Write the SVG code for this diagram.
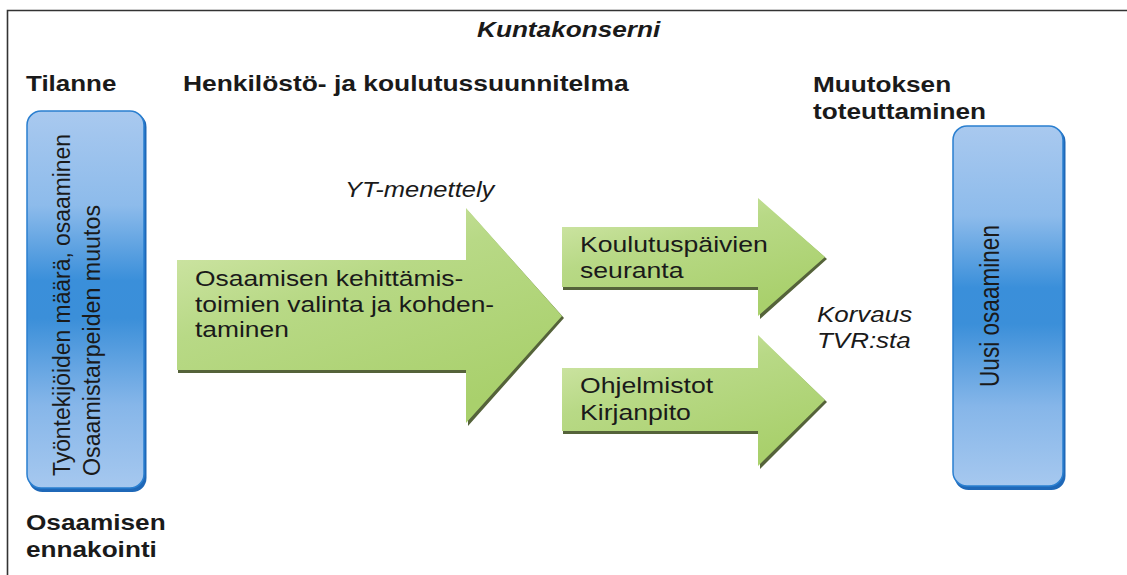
<svg xmlns="http://www.w3.org/2000/svg" width="1127" height="575" viewBox="0 0 1127 575">
  <style>
    .hd { font-family: "Liberation Sans", Arial, sans-serif; font-weight: bold; font-size: 22px; fill: #1a1a1a; }
    .tx { font-family: "Liberation Sans", Arial, sans-serif; font-size: 22px; fill: #1a1a1a; }
    .it { font-family: "Liberation Sans", Arial, sans-serif; font-style: italic; font-size: 22px; fill: #1a1a1a; }
    .vt { font-family: "Liberation Sans", Arial, sans-serif; font-size: 23px; fill: #1a1a1a; }
    .box { fill: url(#blue); stroke: #2a7fd0; stroke-width: 1.5; }
    .boxsh { fill: #1f68b8; }
    .arr { fill: url(#green); }
    .arrsh { fill: #55633a; }
    .frame { fill: none; stroke: #333; stroke-width: 1.6; }
  </style>
  <defs>
    <linearGradient id="blue" x1="0" y1="0" x2="0" y2="1">
      <stop offset="0" stop-color="#a9c9ef"/>
      <stop offset="0.25" stop-color="#8dbbeb"/>
      <stop offset="0.45" stop-color="#3a8fda"/>
      <stop offset="0.55" stop-color="#3b8fd9"/>
      <stop offset="0.78" stop-color="#86b6e9"/>
      <stop offset="1" stop-color="#a6c8ef"/>
    </linearGradient>
    <linearGradient id="green" x1="0" y1="0" x2="0.6" y2="1">
      <stop offset="0" stop-color="#d6e9b0"/>
      <stop offset="0.45" stop-color="#b8d986"/>
      <stop offset="1" stop-color="#a9d06c"/>
    </linearGradient>
  </defs>

  <rect width="1127" height="575" fill="#ffffff"/>
  <path class="frame" d="M7.5,575 L7.5,10.5 L1127,10.5"/>

  <g id="title">
    <text class="hd" font-style="italic" transform="translate(477 37) scale(1.19 1)">Kuntakonserni</text>
  </g>

  <g id="heading-tilanne">
    <text class="hd" transform="translate(26 91) scale(1.18 1)">Tilanne</text>
  </g>
  <g id="heading-suunnitelma">
    <text class="hd" transform="translate(183 91) scale(1.2 1)">Henkilöstö- ja koulutussuunnitelma</text>
  </g>
  <g id="heading-muutos">
    <text class="hd" transform="translate(813 92) scale(1.19 1)"><tspan x="0" y="0">Muutoksen</tspan><tspan x="0" y="27">toteuttaminen</tspan></text>
  </g>
  <g id="heading-ennakointi">
    <text class="hd" transform="translate(26 530) scale(1.19 1)"><tspan x="0" y="0">Osaamisen</tspan><tspan x="0" y="27">ennakointi</tspan></text>
  </g>

  <g id="node-tilanne">
    <rect class="boxsh" x="28.5" y="113" width="118" height="379" rx="14"/>
    <rect class="box" x="27" y="111" width="117" height="377" rx="14"/>
    <text class="vt" transform="translate(70 476) rotate(-90)" textLength="342" lengthAdjust="spacingAndGlyphs">Työntekijöiden määrä, osaaminen</text>
    <text class="vt" transform="translate(100 476) rotate(-90)" textLength="271" lengthAdjust="spacingAndGlyphs">Osaamistarpeiden muutos</text>
  </g>

  <g id="node-uusi">
    <rect class="boxsh" x="954.5" y="128" width="111" height="362" rx="14"/>
    <rect class="box" x="953" y="126" width="110" height="360" rx="14"/>
    <text class="vt" transform="translate(999 387) scale(1.18 1) rotate(-90)" textLength="162" lengthAdjust="spacingAndGlyphs">Uusi osaaminen</text>
  </g>

  <g id="node-kehittamis">
    <path class="arrsh" d="M178,263 L468,263 L468,211 L564,318 L468,426 L468,373 L178,373 Z"/>
    <path class="arr" d="M177,260 L466,260 L466,208 L562,316 L466,423 L466,370 L177,370 Z"/>
    <text class="tx" transform="translate(195 286) scale(1.2 1)"><tspan x="0" y="0">Osaamisen kehittämis-</tspan><tspan x="0" y="26">toimien valinta ja kohden-</tspan><tspan x="0" y="51">taminen</tspan></text>
  </g>

  <g id="label-yt">
    <text class="it" transform="translate(345 197) scale(1.16 1)">YT-menettely</text>
  </g>

  <g id="node-koulutuspaivat">
    <path class="arrsh" d="M563,230 L760,230 L760,201 L827,259 L760,319 L760,290 L563,290 Z"/>
    <path class="arr" d="M562,227 L758,227 L758,198 L825,257 L758,316 L758,287 L562,287 Z"/>
    <text class="tx" transform="translate(580 252) scale(1.21 1)"><tspan x="0" y="0">Koulutuspäivien</tspan><tspan x="0" y="26">seuranta</tspan></text>
  </g>

  <g id="node-ohjelmistot">
    <path class="arrsh" d="M563,371 L760,371 L760,338 L827,402 L760,469 L760,434 L563,434 Z"/>
    <path class="arr" d="M562,368 L758,368 L758,335 L825,400 L758,466 L758,431 L562,431 Z"/>
    <text class="tx" transform="translate(580 393) scale(1.21 1)"><tspan x="0" y="0">Ohjelmistot</tspan><tspan x="0" y="27">Kirjanpito</tspan></text>
  </g>

  <g id="label-korvaus">
    <text class="it" transform="translate(817 322) scale(1.18 1)"><tspan x="0" y="0">Korvaus</tspan><tspan x="0" y="26">TVR:sta</tspan></text>
  </g>

  <g id="connectors"></g>
</svg>
